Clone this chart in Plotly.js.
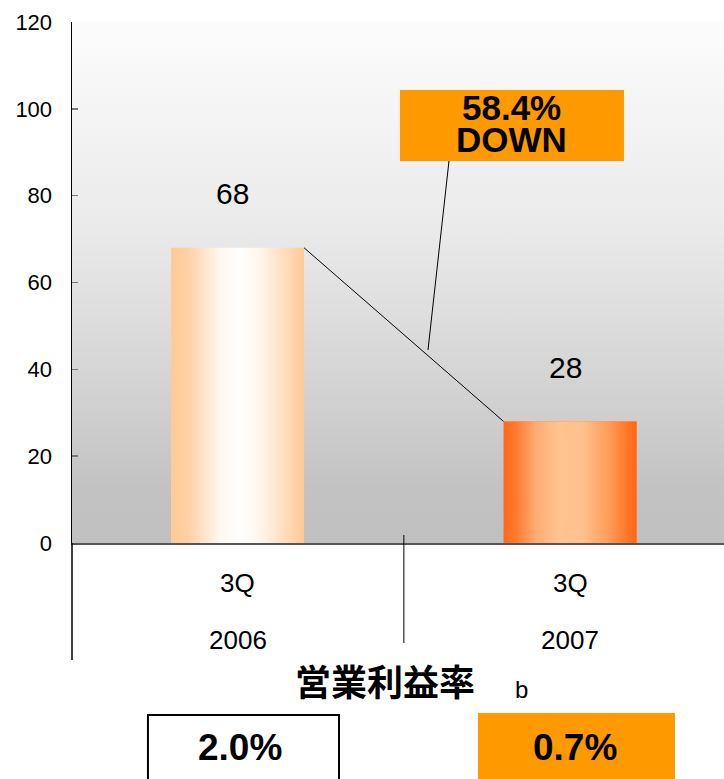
<!DOCTYPE html>
<html>
<head>
<meta charset="utf-8">
<script src="https://cdn.plot.ly/plotly-3.0.1.min.js"></script>
<style>
  html, body { margin: 0; padding: 0; background: #ffffff; }
  #chart { width: 724px; height: 779px; }
</style>
</head>
<body>
<div id="chart"></div>
<script>
// ---- data ----
const quarters = ['3Q', '3Q'];
const years = ['2006', '2007'];
const values = [68, 28];
const valueLabels = ['68', '28'];
const changeLines = ['58.4%', 'DOWN'];
const marginTitle = '営業利益率';
const marginNote = 'b';
const marginValues = ['2.0%', '0.7%'];
const yTicks = [0, 20, 40, 60, 80, 100, 120];

// ---- styling ----
const FONT = '"Liberation Sans", Arial, sans-serif';
const CJK = '"Noto Sans CJK JP", "Noto Sans CJK SC", sans-serif';
const ORANGE = '#ff9900';
const BAR_W = 0.4;
const barScales = [
  [[0, '#ffc994'], [0.12, '#ffd0a2'], [0.36, '#fff6ee'], [0.52, '#ffffff'], [0.68, '#fff4ea'], [0.88, '#ffdab6'], [1, '#ffc994']],
  [[0, '#ff6818'], [0.1, '#ff7c30'], [0.24, '#ffac72'], [0.42, '#ffc490'], [0.6, '#ffc08c'], [0.8, '#ff9a55'], [1, '#ff6410']]
];
const barBase = ['#ffe2c6', '#ffa060'];

const xs = values.map((_, i) => i);

const traces = [];
// base bars (data)
traces.push({
  type: 'bar', x: xs, y: values, width: BAR_W,
  marker: { color: barBase, line: { width: 0 } },
  hoverinfo: 'skip', showlegend: false
});
// gradient overlays for each bar, built from the same data
values.forEach((v, i) => {
  const l = xs[i] - BAR_W / 2, r = xs[i] + BAR_W / 2;
  traces.push({
    type: 'scatter', mode: 'lines',
    x: [l, r, r, l, l], y: [0, 0, v, v, 0],
    line: { width: 0, color: 'rgba(0,0,0,0)' },
    fill: 'toself',
    fillgradient: { type: 'horizontal', colorscale: barScales[i] },
    hoverinfo: 'skip', showlegend: false
  });
});
// connecting line between bar tops
traces.push({
  type: 'scatter', mode: 'lines',
  x: [xs[0] + BAR_W / 2, xs[1] - BAR_W / 2], y: [values[0], values[1]],
  line: { color: '#000000', width: 1 },
  hoverinfo: 'skip', showlegend: false
});

// background gradient image
const svg = "<svg xmlns='http://www.w3.org/2000/svg' width='100' height='100' preserveAspectRatio='none'>" +
  "<defs><linearGradient id='g' x1='0' y1='0' x2='0' y2='1'>" +
  "<stop offset='0' stop-color='#fcfcfc'/>" +
  "<stop offset='0.4' stop-color='#eaeaea'/>" +
  "<stop offset='0.75' stop-color='#cfcfcf'/>" +
  "<stop offset='0.9' stop-color='#c2c2c2'/>" +
  "<stop offset='1' stop-color='#c0c0c0'/>" +
  "</linearGradient></defs><rect width='100' height='100' fill='url(#g)'/></svg>";
const bgSrc = 'data:image/svg+xml;base64,' + btoa(svg);

function ann(o) {
  return Object.assign({ showarrow: false, xanchor: 'center', yanchor: 'middle' }, o);
}

const annotations = [];
// category labels (two levels) and value labels
xs.forEach((x, i) => {
  annotations.push(ann({ x: x, y: 0, xref: 'x', yref: 'y', yshift: -40, text: quarters[i],
    font: { family: FONT, size: 26, color: '#000' } }));
  annotations.push(ann({ x: x, y: 0, xref: 'x', yref: 'y', yshift: -97, text: years[i],
    font: { family: FONT, size: 26, color: '#000' } }));
  annotations.push(ann({ x: x, y: values[i], xref: 'x', yref: 'y', yshift: 54, xshift: -5, text: valueLabels[i],
    font: { family: FONT, size: 30, color: '#000' } }));
});
// change callout text
annotations.push(ann({ x: 0.6748, y: 0.8359, xref: 'paper', yref: 'paper', text: '<b>' + changeLines[0] + '</b>',
  font: { family: FONT, size: 35, color: '#000' } }));
annotations.push(ann({ x: 0.6748, y: 0.7745, xref: 'paper', yref: 'paper', text: '<b>' + changeLines[1] + '</b>',
  font: { family: FONT, size: 35, color: '#000' } }));
// margin section
annotations.push(ann({ x: 0.480, y: -0.263, xref: 'paper', yref: 'paper', text: '<b>' + marginTitle + '</b>',
  font: { family: CJK, size: 36, color: '#000' } }));
annotations.push(ann({ x: 0.690, y: -0.2816, xref: 'paper', yref: 'paper', text: marginNote,
  font: { family: FONT, size: 24, color: '#000' } }));
annotations.push(ann({ x: 0.2577, y: -0.3925, xref: 'paper', yref: 'paper', text: '<b>' + marginValues[0] + '</b>',
  font: { family: FONT, size: 37, color: '#000' } }));
annotations.push(ann({ x: 0.7715, y: -0.3925, xref: 'paper', yref: 'paper', text: '<b>' + marginValues[1] + '</b>',
  font: { family: FONT, size: 37, color: '#000' } }));

const shapes = [
  // y axis line extension below plot
  { type: 'line', xref: 'paper', yref: 'paper', x0: 0, x1: 0, y0: 0, y1: -0.2246, line: { color: '#000', width: 1.5 } },
  // category divider
  { type: 'line', xref: 'paper', yref: 'paper', x0: 0.509, x1: 0.509, y0: 0.0154, y1: -0.192, line: { color: '#000', width: 1 } },
  // callout box
  { type: 'rect', xref: 'paper', yref: 'paper', x0: 0.503, x1: 0.8466, y0: 0.7332, y1: 0.8695, fillcolor: ORANGE, line: { width: 0 } },
  // leader line
  { type: 'line', xref: 'paper', yref: 'paper', x0: 0.546, y0: 0.3704, x1: 0.5782, y1: 0.7332, line: { color: '#000', width: 1 } },
  // margin boxes
  { type: 'rect', xref: 'paper', yref: 'paper', x0: 0.1165, x1: 0.4095, y0: -0.330, y1: -0.50, fillcolor: '#ffffff', line: { color: '#000', width: 2 } },
  { type: 'rect', xref: 'paper', yref: 'paper', x0: 0.6227, x1: 0.9248, y0: -0.3263, y1: -0.50, fillcolor: ORANGE, line: { width: 0 } }
];

const layout = {
  width: 724, height: 779,
  margin: { l: 72, r: 0, t: 22, b: 236, pad: 0 },
  paper_bgcolor: '#ffffff',
  plot_bgcolor: 'rgba(0,0,0,0)',
  showlegend: false,
  bargap: 0,
  xaxis: {
    range: [-0.498, 1.463], showticklabels: false, ticks: '', showgrid: false, zeroline: false,
    showline: true, linecolor: '#555555', linewidth: 2, fixedrange: true
  },
  yaxis: {
    range: [0, 120], tickvals: yTicks, ticktext: yTicks.map(String),
    ticks: 'inside', ticklen: 6, tickcolor: '#777777', tickwidth: 1.5,
    showline: true, linecolor: '#000000', linewidth: 1.5,
    showgrid: false, zeroline: false, ticklabelstandoff: 14,
    tickfont: { family: FONT, size: 22, color: '#000' }, fixedrange: true
  },
  images: [{ source: bgSrc, xref: 'paper', yref: 'paper', x: 0, y: 1, sizex: 1, sizey: 1,
    xanchor: 'left', yanchor: 'top', sizing: 'stretch', layer: 'below' }],
  shapes: shapes,
  annotations: annotations
};

Plotly.newPlot('chart', traces, layout, { displayModeBar: false, staticPlot: true });
</script>
</body>
</html>
